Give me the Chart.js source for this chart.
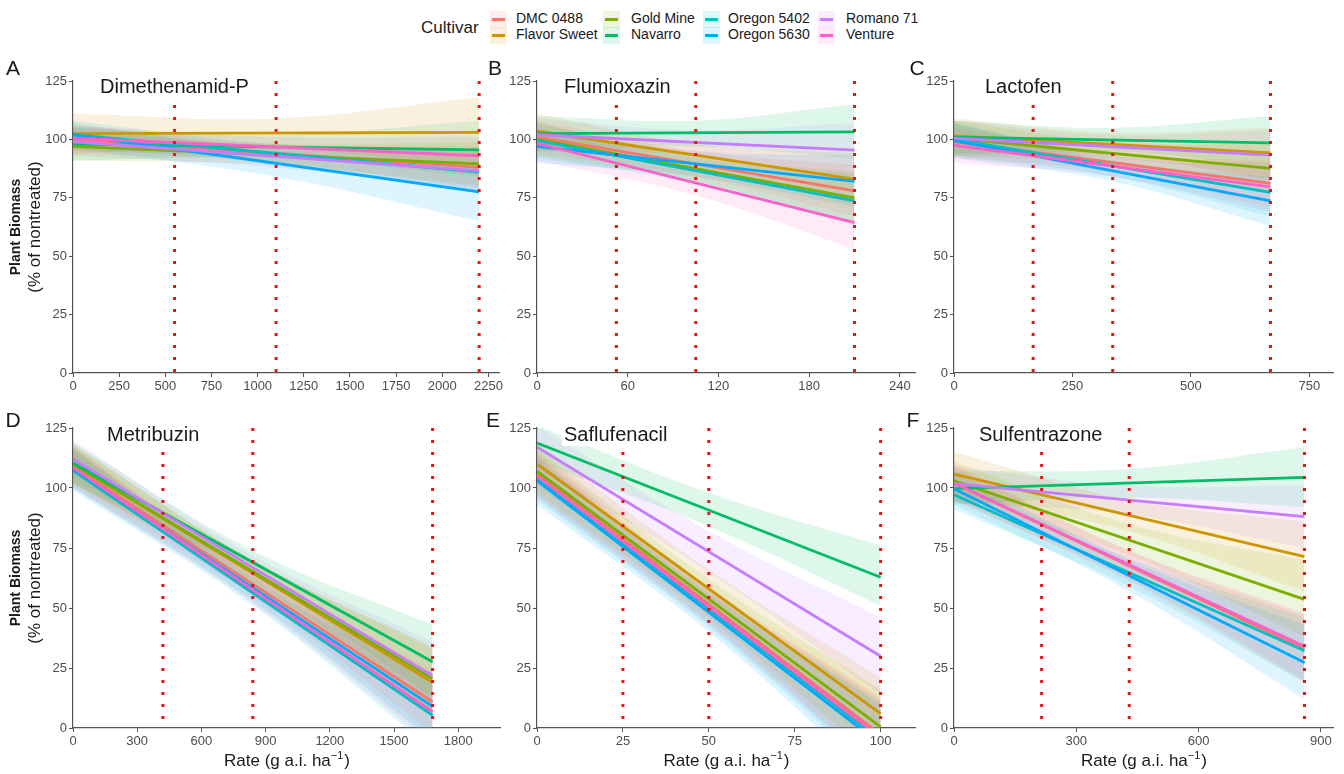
<!DOCTYPE html>
<html>
<head>
<meta charset="utf-8">
<script src="https://cdn.jsdelivr.net/npm/chart.js@4.4.1/dist/chart.umd.min.js"></script>
<style>
  body { margin: 0; background: #fff; width: 1344px; height: 774px; position: relative; overflow: hidden;
         font-family: 'Liberation Sans', Arial, sans-serif; color: #1a1a1a; }
  canvas { position: absolute; }
  .lg-title { position: absolute; left: 421px; top: 18px; font-size: 17px; }
  .lg-key { position: absolute; width: 17px; height: 17px; }
  .lg-key i { position: absolute; left: 2px; right: 2px; top: 7px; height: 3px; }
  .lg-text { position: absolute; font-size: 14px; line-height: 17px; white-space: nowrap; }
</style>
</head>
<body>
<div id="legend"></div>
<canvas id="p0"></canvas>
<canvas id="p1"></canvas>
<canvas id="p2"></canvas>
<canvas id="p3"></canvas>
<canvas id="p4"></canvas>
<canvas id="p5"></canvas>
<script>
// cultivars and ggplot hue colours
const cultivars = ['DMC 0488', 'Flavor Sweet', 'Gold Mine', 'Navarro', 'Oregon 5402', 'Oregon 5630', 'Romano 71', 'Venture'];
const colors = ['#F8766D', '#CD9600', '#7CAE00', '#00BE67', '#00BFC4', '#00A9FF', '#C77CFF', '#FF61CC'];

const herbicides = ['Dimethenamid-P', 'Flumioxazin', 'Lactofen', 'Metribuzin', 'Saflufenacil', 'Sulfentrazone'];
const letters = ['A', 'B', 'C', 'D', 'E', 'F'];
const xTicks = [
  [0, 250, 500, 750, 1000, 1250, 1500, 1750, 2000, 2250],
  [0, 60, 120, 180, 240],
  [0, 250, 500, 750],
  [0, 300, 600, 900, 1200, 1500, 1800],
  [0, 25, 50, 75, 100],
  [0, 300, 600, 900]
];
const yTicks = [0, 25, 50, 75, 100, 125];
const axisMax = [2310, 250, 800, 1995, 110, 930];

// 0.5x, 1x, 2x label rates (red dotted lines)
const refRates = [
  [550, 1100, 2200],
  [52.5, 105, 210],
  [167, 335, 668],
  [420, 840, 1680],
  [25, 50, 100],
  [215, 430, 860]
];

// fitted biomass at rate 0 and at highest rate, per cultivar
const fitAt0 = [
  [100, 102.5, 97, 98, 102, 102, 99, 100.5],
  [101, 103.5, 100, 102.5, 99.5, 97, 102, 98.3],
  [99, 101.5, 100.5, 101, 100, 99.5, 100.5, 97.5],
  [109, 110, 110, 110.4, 107.3, 108, 112, 108.5],
  [106, 110, 107, 118.7, 104, 103, 117, 105],
  [102, 105.8, 103, 99.7, 97.2, 99.7, 101.8, 102]
];
const fitAtMax = [
  [88, 103, 89.5, 95.5, 86, 77.5, 86.5, 93],
  [78, 83, 75, 103.2, 73.7, 82, 95.4, 64.4],
  [81.2, 94.2, 87.6, 98.5, 77.3, 73.7, 93.3, 79.7],
  [10.9, 19, 20.5, 27.6, 5.3, 9, 21.7, 6.7],
  [-2.7, 6, 0.5, 62.8, -5, -6.6, 29.9, -3.9],
  [33, 71.4, 53.6, 104.4, 32.2, 27.3, 88.1, 34.1]
];

// confidence band, [at 0, at 1x rate, at 2x rate]
const bandLo = [
  [[94,90,79],[94,96,88],[91,89,80],[91,92,84],[96,90,77],[96,84,65],[93,88,78],[95,92,85]],
  [[94,84,67],[96,88,72],[93,82,64],[95,97,92],[92,81,63],[90,84,71],[95,93,84],[91,76,53]],
  [[92,86,71],[94,93,83],[93,89,77],[94,95,88],[93,84,67],[92,82,63],[93,92,83],[90,84,69]],
  [[101,55,-2],[102,59,5],[102,60,6],[102,64,13],[99,51,-9],[100,53,-5],[104,62,7],[100,52,-7]],
  [[97,44,-18],[101,50,-9],[98,46,-15],[111,84,51],[95,42,-21],[93,40,-24],[108,65,14],[96,43,-19]],
  [[95,61,19],[97,82,57],[95,72,38],[93,96,92],[91,59,19],[93,57,12],[94,89,75],[95,62,20]]
];
const bandHi = [
  [[106,98,97],[111,109,118],[103,98,99],[105,102,108],[108,98,95],[107,95,90],[105,97,95],[106,101,101]],
  [[108,95,89],[111,98,94],[107,93,86],[110,108,115],[107,92,85],[104,95,93],[109,104,107],[105,87,76]],
  [[106,94,91],[109,103,105],[108,99,98],[108,105,110],[107,93,88],[107,91,84],[108,102,104],[105,93,90]],
  [[117,65,24],[118,70,33],[118,70,34],[119,74,43],[116,62,19],[116,64,23],[120,72,36],[117,63,20]],
  [[115,59,13],[119,66,21],[116,62,16],[126,98,76],[113,57,11],[112,56,10],[126,82,46],[114,58,12]],
  [[110,74,47],[115,95,86],[111,85,70],[107,108,117],[104,71,46],[107,70,43],[109,101,101],[109,74,48]]
];

const FONT = "'Liberation Sans', Arial, sans-serif";

function tint(hex, a) {
  const n = parseInt(hex.slice(1), 16);
  return 'rgba(' + (n >> 16) + ',' + ((n >> 8) & 255) + ',' + (n & 255) + ',' + a + ')';
}

// legend (two rows, filled column by column)
const legend = document.getElementById('legend');
legend.innerHTML = '<div class="lg-title">Cultivar</div>';
const keyX = [490, 603, 703, 818];
const textX = [516, 631, 728, 846];
cultivars.forEach((name, i) => {
  const col = Math.floor(i / 2), row = i % 2;
  const top = 11 + row * 16;
  legend.innerHTML +=
    '<div class="lg-key" style="left:' + keyX[col] + 'px;top:' + top + 'px;background:' + tint(colors[i], 0.13) + '">' +
    '<i style="background:' + colors[i] + '"></i></div>' +
    '<div class="lg-text" style="left:' + textX[col] + 'px;top:' + (top - 1) + 'px">' + name + '</div>';
});

// layout of the six canvases
const boxes = [
  { left: 0, top: 50, w: 505, h: 350 }, { left: 480, top: 50, w: 445, h: 350 }, { left: 900, top: 50, w: 444, h: 350 },
  { left: 0, top: 405, w: 505, h: 369 }, { left: 480, top: 405, w: 445, h: 369 }, { left: 900, top: 405, w: 444, h: 369 }
];
const padL = [23, 17, 14], padR = [5, 10, 11], yW = [50, 40, 40];
const letterPos = [[13, 69], [495, 69], [917, 69], [13, 421], [493, 421], [913, 421]];
const titleDx = [27, 27, 31, 34, 27, 25];

const deco = {
  id: 'deco',
  afterDraw(chart, args, o) {
    const ctx = chart.ctx, a = chart.chartArea;
    ctx.save();
    // panel title on a white box
    ctx.font = '20px ' + FONT;
    const tx = a.left + o.titleDx, ty = a.top + (o.row ? 7 : 6);
    const w = ctx.measureText(o.title).width;
    ctx.fillStyle = '#fff';
    ctx.fillRect(tx - 2, ty - 11, w + 4, 22);
    ctx.fillStyle = '#1a1a1a';
    ctx.textBaseline = 'middle';
    ctx.textAlign = 'left';
    ctx.fillText(o.title, tx, ty);
    // panel letter
    ctx.font = '21px ' + FONT;
    ctx.textAlign = 'center';
    ctx.fillText(o.letter, o.letterX, o.letterY);
    // y title
    if (o.yTitle) {
      const cy = (a.top + a.bottom) / 2;
      ctx.save();
      ctx.translate(16, cy);
      ctx.rotate(-Math.PI / 2);
      ctx.font = 'bold 14px ' + FONT;
      ctx.fillText('Plant Biomass', 0, 0);
      ctx.restore();
      ctx.save();
      ctx.translate(35, cy);
      ctx.rotate(-Math.PI / 2);
      ctx.font = '17px ' + FONT;
      ctx.fillText('(% of nontreated)', 0, 0);
      ctx.restore();
    }
    // x title with superscript
    if (o.row) {
      const cx = (a.left + a.right) / 2, by = a.bottom + 38;
      const t1 = 'Rate (g a.i. ha', sup = '\u22121', t2 = ')';
      ctx.font = '17px ' + FONT;
      const w1 = ctx.measureText(t1).width, w3 = ctx.measureText(t2).width;
      ctx.font = '11px ' + FONT;
      const w2 = ctx.measureText(sup).width;
      let x = cx - (w1 + w2 + w3) / 2;
      ctx.textAlign = 'left';
      ctx.textBaseline = 'alphabetic';
      ctx.font = '17px ' + FONT;
      ctx.fillText(t1, x, by);
      ctx.font = '11px ' + FONT;
      ctx.fillText(sup, x + w1, by - 7);
      ctx.font = '17px ' + FONT;
      ctx.fillText(t2, x + w1 + w2 + 1, by);
    }
    ctx.restore();
  }
};

function makePanel(p) {
  const b = boxes[p], col = p % 3, row = Math.floor(p / 3);
  const cv = document.getElementById('p' + p);
  cv.width = b.w; cv.height = b.h;
  cv.style.left = b.left + 'px'; cv.style.top = b.top + 'px';

  const xs = [0, refRates[p][1], refRates[p][2]];
  const ds = [];
  cultivars.forEach((name, i) => {
    ds.push({ data: xs.map((x, k) => ({ x: x, y: bandLo[p][i][k] })), borderColor: 'rgba(0,0,0,0)', borderWidth: 0,
      pointRadius: 0, tension: 0.4, fill: false, order: 30 });
    ds.push({ data: xs.map((x, k) => ({ x: x, y: bandHi[p][i][k] })), borderColor: 'rgba(0,0,0,0)', borderWidth: 0,
      pointRadius: 0, tension: 0.4, fill: '-1', backgroundColor: tint(colors[i], 0.13), order: 30 });
  });
  cultivars.forEach((name, i) => {
    ds.push({ label: name, data: [{ x: 0, y: fitAt0[p][i] }, { x: refRates[p][2], y: fitAtMax[p][i] }],
      borderColor: colors[i], borderWidth: 2.8, pointRadius: 0, fill: false, order: 20 - i });
  });
  refRates[p].forEach(r => {
    ds.push({ data: [{ x: r, y: 125 }, { x: r, y: 0 }], borderColor: '#ec1313', borderWidth: 3,
      borderDash: [3, 9], borderCapStyle: 'butt', pointRadius: 0, fill: false, order: 0 });
  });

  const tickFont = { family: FONT, size: 13 };
  new Chart(cv, {
    type: 'line',
    data: { datasets: ds },
    options: {
      responsive: false,
      animation: false,
      devicePixelRatio: 1,
      layout: { padding: { left: padL[col], right: padR[col], top: row ? 23 : 31, bottom: 0 } },
      plugins: {
        legend: { display: false },
        tooltip: { enabled: false },
        deco: {
          title: herbicides[p], letter: letters[p], row: row, titleDx: titleDx[p],
          letterX: letterPos[p][0] - b.left, letterY: letterPos[p][1] - b.top, yTitle: col === 0
        }
      },
      scales: {
        x: {
          type: 'linear', min: 0, max: axisMax[p],
          afterBuildTicks: s => { s.ticks = xTicks[p].map(v => ({ value: v })); },
          ticks: { autoSkip: false, maxRotation: 0, color: '#4d4d4d', font: tickFont, padding: 2,
            callback: v => String(v) },
          grid: { drawOnChartArea: false, drawTicks: true, tickLength: 4, color: '#555' },
          border: { color: '#555', width: 1.2 },
          afterFit: s => { s.height = row ? 46 : 27; }
        },
        y: {
          min: 0, max: 125,
          afterBuildTicks: s => { s.ticks = yTicks.map(v => ({ value: v })); },
          ticks: { color: '#4d4d4d', font: tickFont, padding: 2, callback: v => String(v) },
          grid: { drawOnChartArea: false, drawTicks: true, tickLength: 4, color: '#555' },
          border: { color: '#555', width: 1.2 },
          afterFit: s => { s.width = yW[col]; }
        }
      }
    },
    plugins: [deco]
  });
}

for (let p = 0; p < 6; p++) makePanel(p);
</script>
</body>
</html>
